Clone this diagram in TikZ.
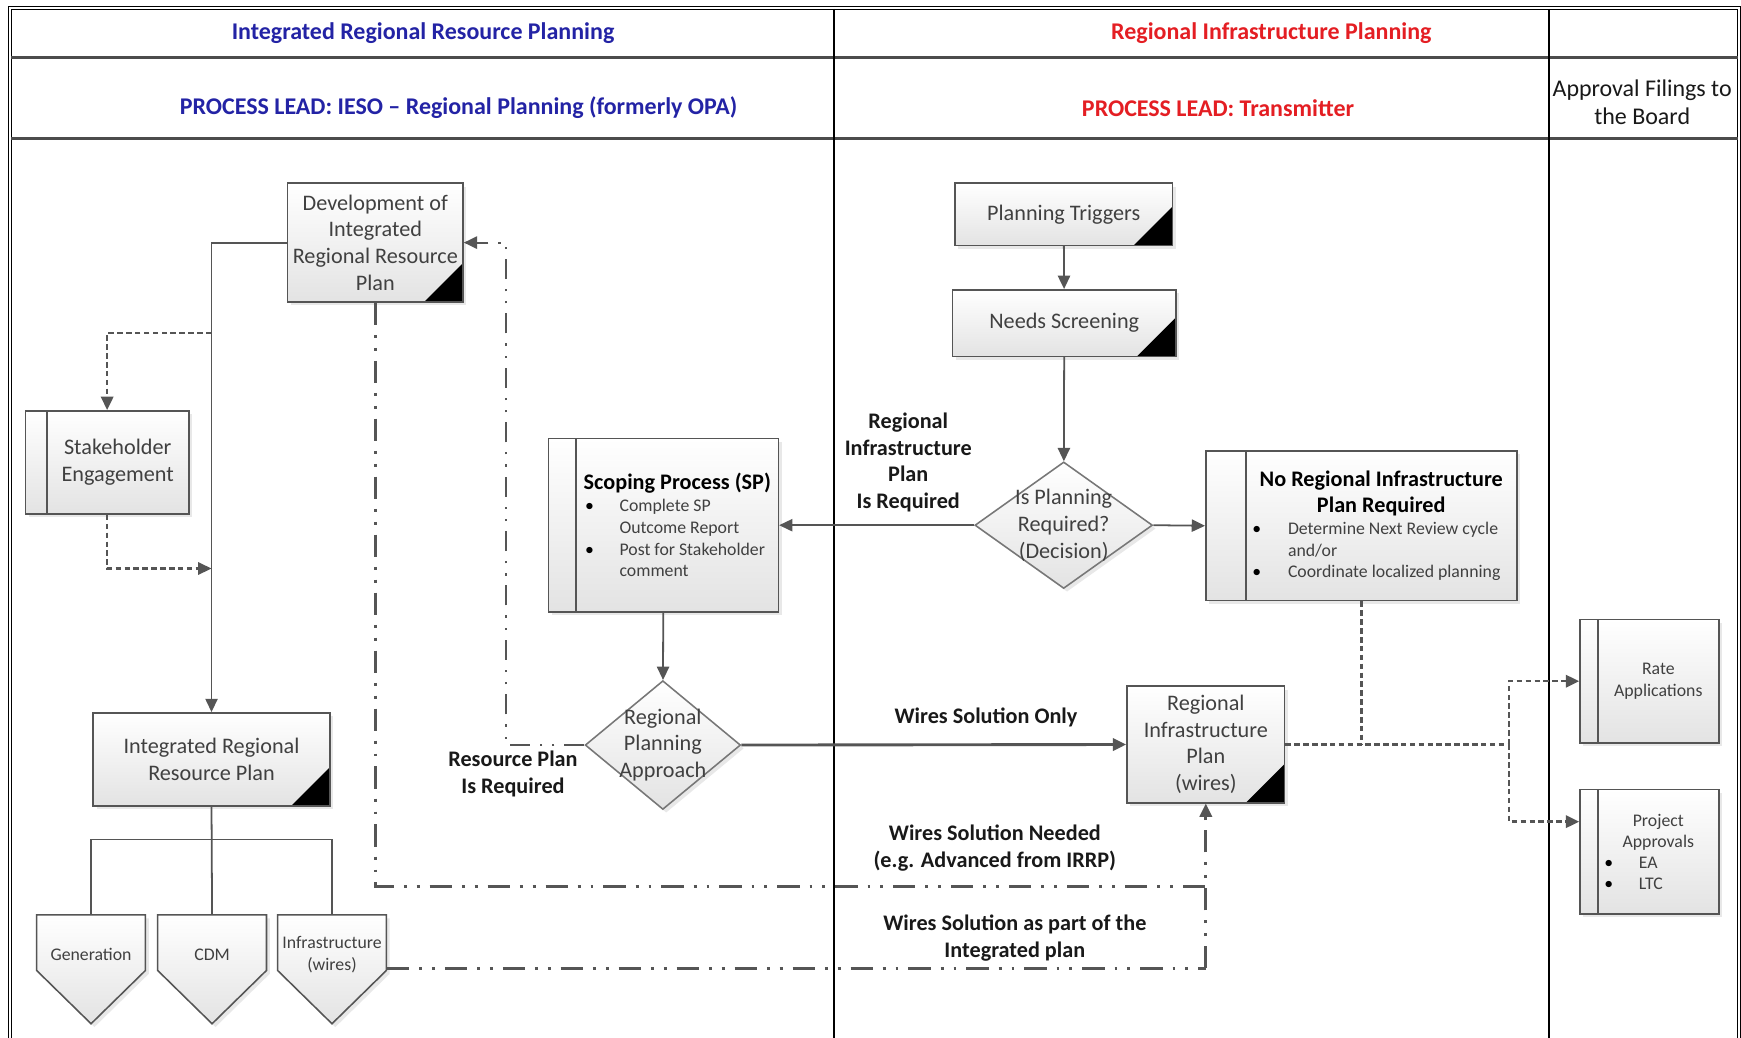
\documentclass[tikz,border=0pt]{standalone}
\usepackage{fontspec}
\setmainfont{Carlito}
\usetikzlibrary{arrows.meta,shapes.geometric,calc,shadows}
\definecolor{hdrblue}{RGB}{35,35,165}
\definecolor{hdrred}{RGB}{228,30,35}
\definecolor{txtgray}{RGB}{64,64,64}
\definecolor{linegray}{RGB}{85,85,85}
\definecolor{lblcol}{RGB}{25,25,25}
\newcommand\mypent[3]{%
  \path[pentshape] (#2-49,824) -- (#2+49,824) -- (#2+49,874) -- (#2,922) -- (#2-49,874) -- cycle;
  \node[penttext] (#1) at (#2,860) {#3};}
\begin{document}
\begin{tikzpicture}[x=0.5pt,y=-0.5pt,
  every node/.style={font=\fontsize{10}{12}\selectfont, text=txtgray, align=center, inner sep=0pt},
  shad/.style={drop shadow={opacity=0.18,shadow xshift=1.5pt,shadow yshift=-1.5pt}},
  boxbase/.style={draw=linegray, line width=0.7pt, top color=white, bottom color=gray!22, shad},
  cornerbox/.style={boxbase, path picture={\fill[black] (path picture bounding box.south east) -- ++(-17.5pt,0pt) -- ++(17.5pt,17.5pt) -- cycle;}},
  stripbox/.style={boxbase, path picture={\draw[linegray, line width=0.9pt] ([xshift=#1]path picture bounding box.north west) -- ([xshift=#1]path picture bounding box.south west);}},
  decision/.style={diamond, draw=linegray!80, line width=0.7pt, top color=white, bottom color=gray!22, shad},
  pentshape/.style={draw=linegray, line width=0.7pt, top color=white, bottom color=gray!22, shad},
  penttext/.style={minimum width=49pt, minimum height=36pt, font=\fontsize{8}{10}\selectfont},
  hdr/.style={font=\fontsize{10.8}{13}\selectfont\bfseries},
  lblb/.style={font=\fontsize{10}{12}\selectfont\bfseries, text=lblcol},
  arrowtip/.style={-{Triangle[length=6pt,width=5.5pt]}},
  arr/.style={draw=linegray, line width=0.8pt, arrowtip},
  arrthick/.style={draw=linegray, line width=1.3pt, arrowtip},
  plainline/.style={draw=linegray, line width=0.8pt},
  dotline/.style={draw=linegray, line width=1.1pt, dash pattern=on 2.5pt off 1.5pt},
  dotarr/.style={dotline, arrowtip},
  dashdot/.style={draw=linegray, line width=1.3pt, dash pattern=on 10pt off 4.5pt on 1.3pt off 4.5pt on 1.3pt off 4.5pt},
  dashdotthin/.style={draw=linegray, line width=1pt, dash pattern=on 9pt off 4.5pt on 1pt off 4.5pt on 1pt off 4.5pt},
]
\useasboundingbox (0,0) rectangle (1568,934);
\fill[white] (0,0) rectangle (1568,934);

% ---- table frame ----
\draw[black, line width=0.5pt, double=white, double distance=0.9pt] (9,7) rectangle (1566,970);
\draw[gray!60!black, line width=1.3pt] (10,52) -- (1565,52);
\draw[gray!60!black, line width=1.3pt] (10,125) -- (1565,125);
\draw[black, line width=0.7pt] (751,8) -- (751,960);
\draw[black, line width=0.7pt] (1395,8) -- (1395,960);

% ---- headers ----
\node[hdr, text=hdrblue] (h1) at (381,30) {Integrated Regional Resource Planning};
\node[hdr, text=hdrred] (h2) at (1145,30) {Regional Infrastructure Planning};
\node[hdr, text=hdrblue] (h3) at (413,97) {PROCESS LEAD: IESO – Regional Planning (formerly OPA)};
\node[hdr, text=hdrred] (h4) at (1097,97) {PROCESS LEAD: Transmitter};
\node[font=\fontsize{10.8}{12.5}\selectfont, text=lblcol] (h5) at (1479,92) {Approval Filings to\\the Board};

% ---- nodes ----
\node[cornerbox, minimum width=79pt, minimum height=53.5pt] (dev) at (338,218.5)
  {Development of\\Integrated\\Regional Resource\\Plan};
\node[stripbox=9.5pt, minimum width=73.5pt, minimum height=46.5pt] (stake) at (96.5,416.5)
  {\hspace*{9.5pt}\parbox{64pt}{\centering Stakeholder\\Engagement}};
\node[cornerbox, minimum width=106.5pt, minimum height=42pt] (irrp) at (190.5,684)
  {Integrated Regional\\Resource Plan};

\mypent{gen}{82}{Generation}
\mypent{cdm}{191}{CDM}
\mypent{infra}{299}{Infrastructure\\(wires)}

\node[stripbox=12.5pt, minimum width=103.5pt, minimum height=78pt] (scope) at (597.5,473)
  {\hspace*{12.5pt}\parbox{91pt}{\centering\textcolor{black}{\bfseries Scoping Process (SP)}\par
   \raggedright\fontsize{8}{9.8}\selectfont
   \hspace*{4pt}\makebox[15.5pt][l]{\textcolor{black}{\textbullet}}Complete SP\\
   \hspace*{19.5pt}Outcome Report\\
   \hspace*{4pt}\makebox[15.5pt][l]{\textcolor{black}{\textbullet}}Post for Stakeholder\\
   \hspace*{19.5pt}comment}};

\node[decision, minimum width=70pt, minimum height=58pt,
  label={center:{Regional\\Planning\\Approach}}] (rpa) at (597,671) {};

\node[cornerbox, minimum width=98pt, minimum height=28pt] (trig) at (958,193) {Planning Triggers};
\node[cornerbox, minimum width=100.5pt, minimum height=30pt] (needs) at (958.5,291) {Needs Screening};

\node[decision, minimum width=80pt, minimum height=57pt,
  label={center:{Is Planning\\Required?\\(Decision)}}] (ipr) at (958,473) {};

\node[stripbox=18pt, minimum width=140pt, minimum height=67.5pt] (noreg) at (1226,473.5)
  {\hspace*{18pt}\parbox{122pt}{\centering\textcolor{black}{\bfseries No Regional Infrastructure\\Plan Required}\par
   \raggedright\fontsize{8}{9.8}\selectfont
   \hspace*{3pt}\makebox[16pt][l]{\textcolor{black}{\textbullet}}Determine Next Review cycle\\
   \hspace*{19pt}and/or\\
   \hspace*{3pt}\makebox[16pt][l]{\textcolor{black}{\textbullet}}Coordinate localized planning}};

\node[cornerbox, minimum width=71pt, minimum height=52.5pt] (rip) at (1086,670.5)
  {Regional\\Infrastructure\\Plan\\(wires)};

\node[stripbox=8pt, minimum width=62.5pt, minimum height=55.5pt] (rate) at (1485.5,613.5)
  {\hspace*{8pt}\parbox{54.5pt}{\centering\fontsize{8}{9.5}\selectfont Rate\\Applications}};
\node[stripbox=8pt, minimum width=62.5pt, minimum height=56pt] (proj) at (1485.5,767)
  {\hspace*{8pt}\parbox{54.5pt}{\centering\fontsize{8}{9.5}\selectfont Project\\Approvals\par
   \raggedright\hspace*{3pt}\makebox[15.5pt][l]{\textcolor{black}{\textbullet}}EA\\
   \hspace*{3pt}\makebox[15.5pt][l]{\textcolor{black}{\textbullet}}LTC}};

% ---- labels ----
\node[lblb] (lrip) at (818,416.5) {Regional\\Infrastructure\\Plan\\Is Required};
\node[lblb] (lres) at (462,697) {Resource Plan\\Is Required};
\node[lblb] (lwso) at (888,646) {Wires Solution Only};
\node[lblb] (lwsn) at (896,764) {Wires Solution Needed\\(e.g. Advanced from IRRP)};
\node[lblb] (lwsi) at (914,845) {Wires Solution as part of the\\Integrated plan};

% ---- helper coordinates ----
\coordinate (tapA) at (190.5,300);
\coordinate (tapB) at (190.5,512);
\coordinate (busY) at (190.5,756);
\coordinate (wn) at (1086,798);
\coordinate (wb) at (1086,872);
\coordinate (rpc) at (456,218.5);
\coordinate (split) at (1359,670.5);

% ---- connectors ----
\draw[arr] (dev.west) -| (irrp.north);
\draw[dotarr] (tapA) -| (stake.north);
\draw[dotarr] (stake.south) |- (tapB);
\draw[plainline] (irrp.south) -- (cdm.north);
\draw[plainline] (gen.north) -- (gen.north |- busY) -- (infra.north |- busY) -- (infra.north);

\draw[dashdot] (dev.south) |- (wn);
\draw[dashdot] ([yshift=-6pt]infra.east) -- (wb);
\draw[dashdot, arrowtip] (wb) -- (rip.south);
\draw[dashdotthin, arrowtip] (rpa.west) -| (rpc) -- (dev.east);

\draw[arr] (trig) -- (needs);
\draw[arr] (needs) -- (ipr);
\draw[arr] (ipr.west) -- (scope.east);
\draw[arr] (ipr.east) -- (noreg.west);
\draw[arr] (scope) -- (rpa);
\draw[arrthick] (rpa.east) -- (rip.west);

\draw[dotline] (rip.east) -- (split);
\draw[dotline] (noreg.south) -- (noreg.south |- rip.east);
\draw[dotarr] (split) |- (rate.west);
\draw[dotarr] (split) |- ([yshift=13.5pt]proj.west);
\end{tikzpicture}
\end{document}
